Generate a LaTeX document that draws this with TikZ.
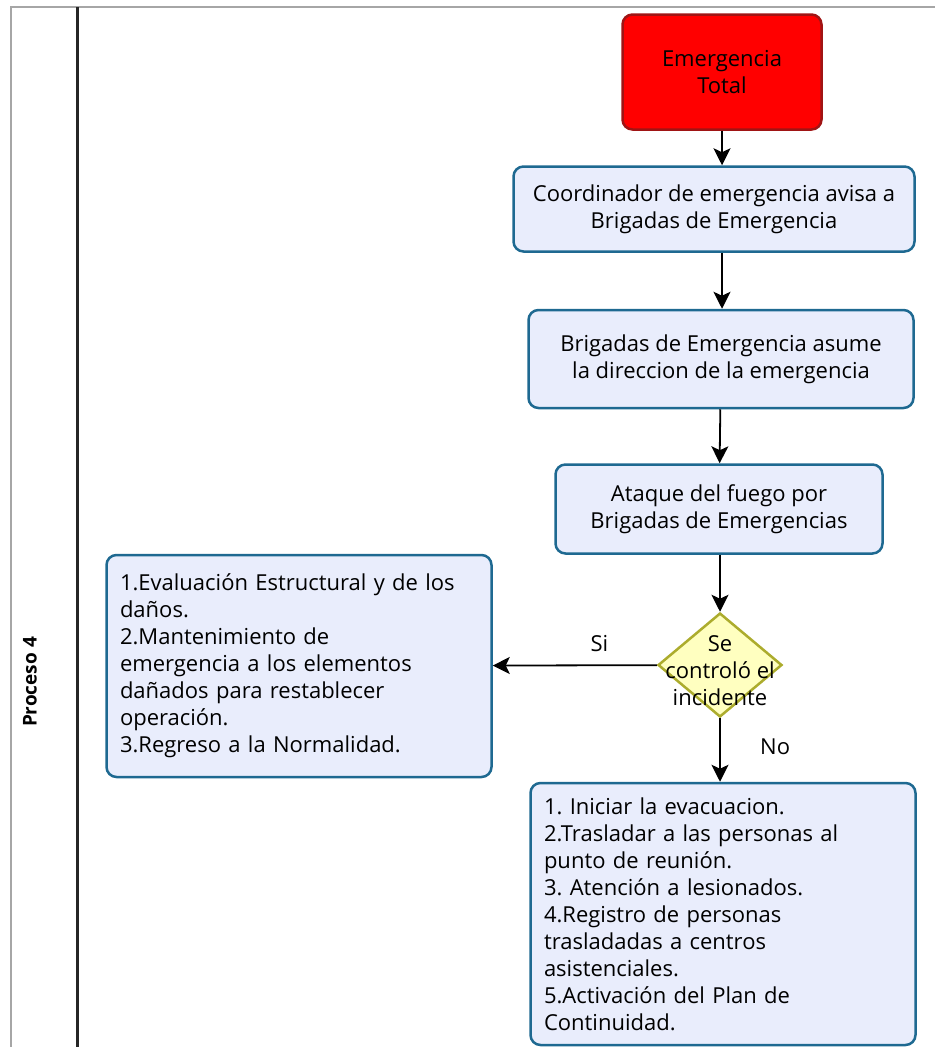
\documentclass[tikz,border=0pt]{standalone}
\usepackage{fontspec}
\setmainfont{Open Sans}
\frenchspacing
\usetikzlibrary{arrows.meta,shapes.geometric}

\definecolor{procfill}{RGB}{233,237,252}
\definecolor{procline}{RGB}{30,105,145}
\definecolor{startfill}{RGB}{255,0,0}
\definecolor{startline}{RGB}{160,20,20}
\definecolor{decfill}{RGB}{255,255,192}
\definecolor{decline}{RGB}{172,172,45}

\tikzset{
  proc/.style={draw=procline, fill=procfill, line width=2.5pt, rounded corners=10pt,
    inner sep=0pt, align=center, font=\fontsize{22}{27}\selectfont},
  flow/.style={arrows={-Stealth[length=17pt,width=17pt,inset=4pt]}, line width=1.8pt}
}

\begin{document}
\begin{tikzpicture}[x=1pt,y=-1pt]
\useasboundingbox (0,0) rectangle (935,1047);

% lane
\draw[black!35, line width=2pt] (11,1047) -- (11,7) -- (935,7);
\draw[black!85, line width=3pt] (77,7) -- (77,1047);
\node[rotate=90, font=\bfseries\fontsize{19}{22}\selectfont] at (30,682) (lane) {Proceso 4};

\node[proc, draw=startline, fill=startfill, minimum width=199pt, minimum height=115pt]
  at (722,72) (total) {Emergencia\\Total};
\node[proc, minimum width=401pt, minimum height=85pt] at (714,209) (aviso)
  {Coordinador de emergencia avisa a\\Brigadas de Emergencia};
\node[proc, minimum width=385pt, minimum height=98pt] at (721,359) (direccion)
  {Brigadas de Emergencia asume\\la direccion de la emergencia};
\node[proc, minimum width=327pt, minimum height=89pt] at (719,509) (ataque)
  {Ataque del fuego por\\Brigadas de Emergencias};
\node[diamond, draw=decline, fill=decfill, line width=2.5pt, inner sep=0pt,
  minimum width=124pt, minimum height=104pt,
  label={[align=center, font=\fontsize{22}{27}\selectfont, yshift=-6pt]center:Se\\controló el\\incidente}]
  at (720,665) (control) {};
\node[proc, align=left, minimum width=385pt, minimum height=222pt, text width=358pt] at (299,666) (normal)
  {1.Evaluación Estructural y de los\\daños.\\2.Mantenimiento de\\emergencia a los elementos\\dañados para restablecer\\operación.\\3.Regreso a la Normalidad.};
\node[proc, align=left, minimum width=385pt, minimum height=262pt, text width=358pt] at (723,914) (evacuar)
  {1. Iniciar la evacuacion.\\2.Trasladar a las personas al\\punto de reunión.\\3. Atención a lesionados.\\4.Registro de personas\\trasladadas a centros\\asistenciales.\\5.Activación del Plan de\\Continuidad.};

\draw[flow] (total) -- (aviso.north -| total);
\draw[flow] (aviso.south -| total) -- (direccion.north -| total);
\draw[flow] (direccion) -- (ataque);
\draw[flow] (ataque.south -| control) -- (control);
\draw[flow] (control) -- node[above, pos=0.35, yshift=9pt, font=\fontsize{22}{27}\selectfont] {Si} (normal);
\draw[flow] (control.south) -- node[right, pos=0.45, xshift=36pt, font=\fontsize{22}{27}\selectfont] {No} (evacuar.north -| control.south);
\end{tikzpicture}
\end{document}
